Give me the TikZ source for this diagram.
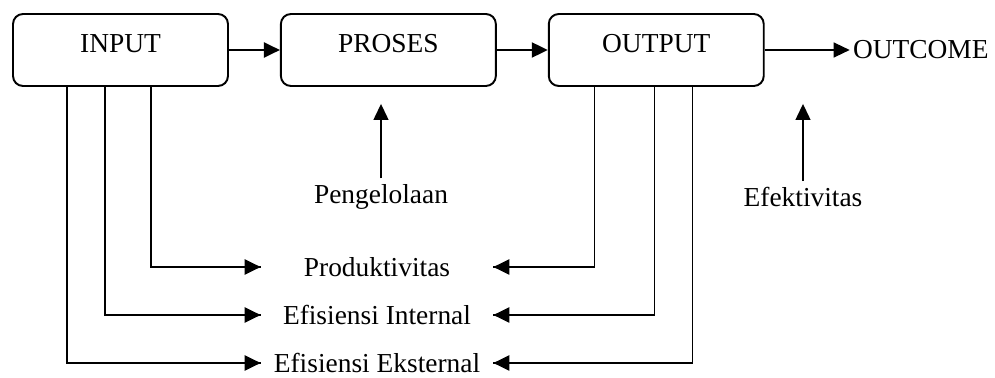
\documentclass[tikz,border=0pt]{standalone}
\usepackage{fontspec}
\setmainfont{Liberation Serif}
\usetikzlibrary{positioning,arrows.meta}

\begin{document}
\begin{tikzpicture}[x=0.02cm,y=-0.02cm,node distance=1.02cm,
		font=\fontsize{15.6}{18}\selectfont,
		>={Triangle[length=0.32cm,width=0.3cm]},
		box/.style={draw,line width=1.1pt,rounded corners=0.2cm,minimum width=4.3cm,minimum height=1.44cm,text height=0.37cm,text depth=0.25cm},
		result/.style={inner sep=0pt,minimum width=4.64cm},
		link/.style={line width=0.75pt},
		tip/.style={line width=1.2pt,->}]
		\useasboundingbox (0,0) rectangle (995,378);
		
		\node[box] (input) at (120.5,50) {INPUT};
		\node[box] (proses) [right = of input] {PROSES};
		\node[box] (output) [right = of proses] {OUTPUT};
		\node[inner sep=0.06cm] (outcome) [right = 1.7cm of output] {OUTCOME};
		
		\node (pengelolaan) at (381,197) {Pengelolaan};
		\node (efektivitas) at (803,197) {Efektivitas};
		
		\node[result] (prod) at (377,267) {Produktivitas};
		\node[result] (effint) at (377,315) {Efisiensi Internal};
		\node[result] (effext) at (377,363) {Efisiensi Eksternal};
		
		\path (input) edge[tip] (proses);
		\path (proses) edge[tip] (output);
		\path (output) edge[link,->] (outcome);
		
		\draw[link,->,shorten >=0.34cm] (pengelolaan) -- (pengelolaan |- proses.south);
		\draw[link,->,shorten >=0.34cm] (efektivitas) -- (efektivitas |- output.south);
		
		\draw[link] ([xshift=0.61cm]input.south) |- (prod.west);
		\draw[link] ([xshift=-0.31cm]input.south) |- (effint.west);
		\draw[link] ([xshift=-1.07cm]input.south) |- (effext.west);
		
		\draw[link] ([xshift=-1.23cm]output.south) |- (prod.east);
		\draw[link] ([xshift=-0.03cm]output.south) |- (effint.east);
		\draw[link] ([xshift=0.73cm]output.south) |- (effext.east);
		
		\draw[tip] ([xshift=-1.4cm]prod.west) -- (prod.west);
		\draw[tip] ([xshift=-1.4cm]effint.west) -- (effint.west);
		\draw[tip] ([xshift=-1.4cm]effext.west) -- (effext.west);
		
		\draw[tip] ([xshift=1.2cm]prod.east) -- (prod.east);
		\draw[tip] ([xshift=1.2cm]effint.east) -- (effint.east);
		\draw[tip] ([xshift=1.2cm]effext.east) -- (effext.east);
	\end{tikzpicture}
\end{document}
